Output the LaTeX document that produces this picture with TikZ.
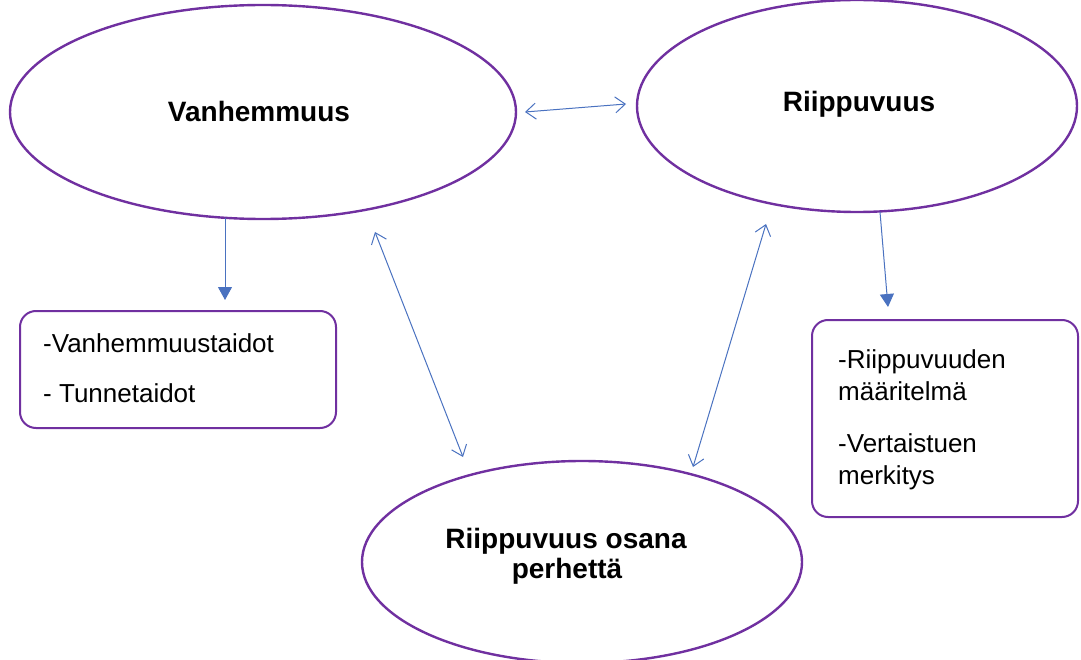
\documentclass[tikz,border=0pt]{standalone}
\usepackage{fontspec}
\setmainfont{Liberation Sans}
\usetikzlibrary{shapes.geometric,arrows.meta}
\definecolor{ovalpurple}{HTML}{7030A0}
\definecolor{arrowblue}{HTML}{4A72C0}
\tikzset{
  oval/.style={ellipse, draw=ovalpurple, line width=2.4pt, inner sep=0pt},
  roundbox/.style={draw=ovalpurple, line width=2pt, rounded corners=16pt},
  title/.style={font=\fontsize{28}{32}\selectfont\bfseries, inner sep=0pt, anchor=base},
  item/.style={font=\fontsize{26}{32}\selectfont, inner sep=0pt, anchor=base west},
  twoway/.style={draw=arrowblue, line width=1pt, {Straight Barb[length=10pt,width=16pt]}-{Straight Barb[length=10pt,width=16pt]}},
  oneway/.style={draw=arrowblue, line width=1pt, -{Triangle[length=13pt,width=14pt]}}
}
\begin{document}
\begin{tikzpicture}[x=1pt,y=-1pt]
\useasboundingbox (0,0) rectangle (1081,660);
% ellipses
\node[oval, minimum width=506pt, minimum height=214pt] (e1) at (263,112) {};
\node[oval, minimum width=440pt, minimum height=212pt] (e2) at (857,106) {};
\node[oval, minimum width=440pt, minimum height=202pt] (e3) at (582,562) {};
% titles
\node[title] (t1) at (259,122) {Vanhemmuus};
\node[title] (t2) at (859,112) {Riippuvuus};
\node[title] (t3a) at (566,548) {Riippuvuus osana};
\node[title] (t3b) at (567,578) {perhettä};
% boxes
\draw[roundbox] (20,311) rectangle (336,428);
\node[inner sep=0pt, minimum width=316pt, minimum height=117pt] (b1) at (178,369.5) {};
\draw[roundbox] (812,320) rectangle (1078,517);
\node[inner sep=0pt, minimum width=266pt, minimum height=197pt] (b2) at (945,418.5) {};
% box texts
\node[item] (l1) at (43,352) {-Vanhemmuustaidot};
\node[item] (l2) at (43,402) {- Tunnetaidot};
\node[item] (r1) at (838,368) {-Riippuvuuden};
\node[item] (r2) at (838,400) {määritelmä};
\node[item] (r3) at (838,452) {-Vertaistuen};
\node[item] (r4) at (838,484) {merkitys};
% connector end points
\coordinate (h1) at (525,112);
\coordinate (h2) at (626,104);
\coordinate (d1a) at (375,232);
\coordinate (d1b) at (463,457);
\coordinate (d2a) at (766,224);
\coordinate (d2b) at (693,467);
\coordinate (v1a) at (225,218);
\coordinate (v1b) at (225,300);
\coordinate (v2a) at (880,212);
\coordinate (v2b) at (888,307);
% connectors
\draw[twoway] (h1) -- (h2);
\draw[twoway] (d1a) -- (d1b);
\draw[twoway] (d2a) -- (d2b);
\draw[oneway] (v1a) -- (v1b);
\draw[oneway] (v2a) -- (v2b);
\end{tikzpicture}
\end{document}
